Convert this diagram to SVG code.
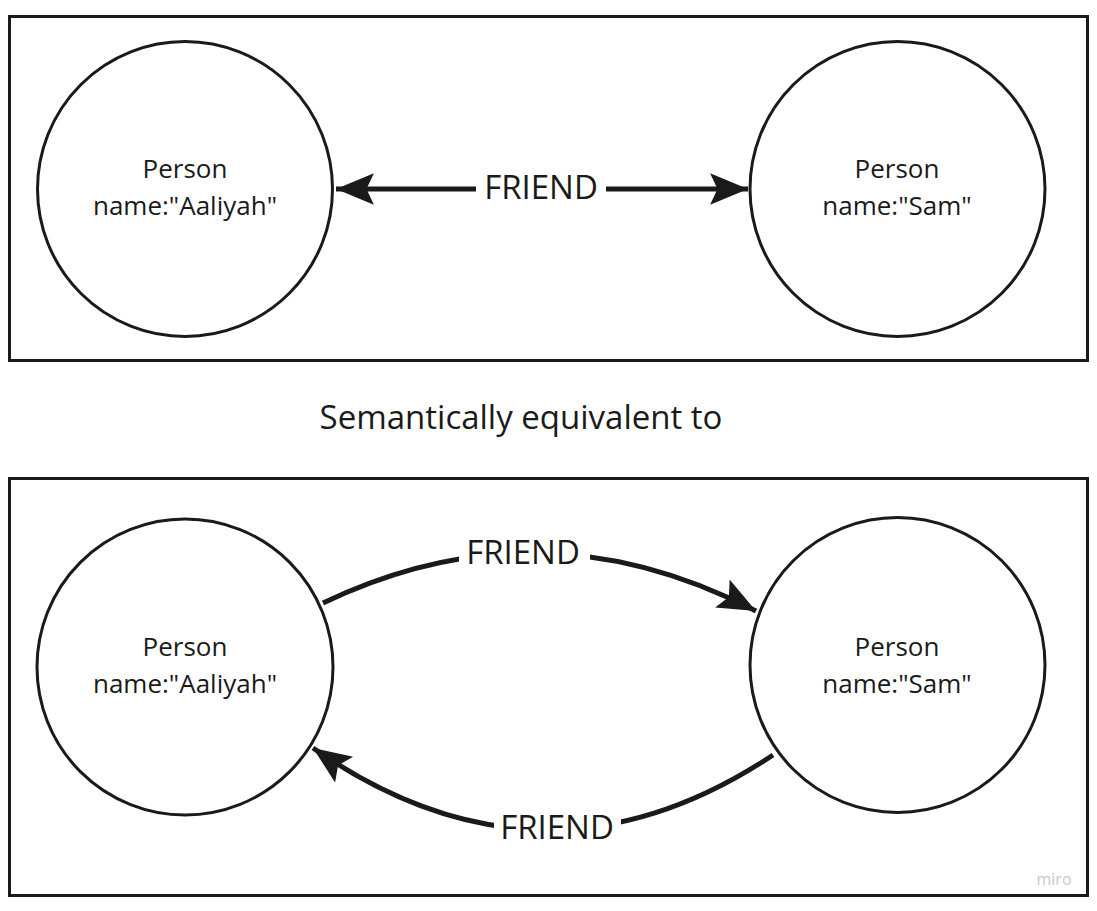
<svg xmlns="http://www.w3.org/2000/svg" width="1097" height="911" viewBox="0 0 1097 911">
<style>
.frame{fill:none;stroke:#1a1a1a;stroke-width:3}
.node{fill:#fff;stroke:#1a1a1a;stroke-width:3}
.lbl{font-family:"Open Sans",sans-serif;font-size:26px;fill:#1a1a1a;text-anchor:middle}
.edge{fill:none;stroke:#1a1a1a;stroke-width:5}
.elbl{font-family:"Open Sans",sans-serif;font-size:33px;fill:#1a1a1a;text-anchor:middle}
.gap{fill:#fff}
</style>
<defs>
<marker id="ah" markerUnits="userSpaceOnUse" markerWidth="40" markerHeight="40" viewBox="-36 -16 38 32" refX="0" refY="0" orient="auto-start-reverse">
<path d="M0,0 L-36,-15 L-29,0 L-36,15 Z" fill="#1a1a1a"/>
</marker>
</defs>
<rect class="frame" x="9.5" y="16.5" width="1078" height="344"/>
<rect class="frame" x="9.5" y="478.5" width="1078" height="417"/>
<text x="521" y="429" font-family="'Open Sans',sans-serif" font-size="33" fill="#1a1a1a" text-anchor="middle">Semantically equivalent to</text>
<g id="connectors">
<g id="edge-top">
<line class="edge" x1="336" y1="189" x2="748" y2="189" marker-start="url(#ah)" marker-end="url(#ah)"/>
<rect class="gap" x="476" y="170" width="130" height="40"/>
<text class="elbl" x="541" y="199">FRIEND</text>
</g>
<g id="edge-a-s">
<path class="edge" d="M323,603 Q540,499 756,611" marker-end="url(#ah)"/>
<rect class="gap" x="459" y="535" width="131" height="40"/>
<text class="elbl" x="523" y="564">FRIEND</text>
</g>
<g id="edge-s-a">
<path class="edge" d="M773,755 Q543,908 313,748" marker-end="url(#ah)"/>
<rect class="gap" x="494" y="806" width="127" height="40"/>
<text class="elbl" x="557" y="839">FRIEND</text>
</g>
</g>
<g id="aaliyah-top"><circle class="node" cx="185" cy="189" r="147.5"/><text class="lbl" x="185" y="178">Person</text><text class="lbl" x="185" y="215">name:"Aaliyah"</text></g>
<g id="sam-top"><circle class="node" cx="897.5" cy="189" r="147.5"/><text class="lbl" x="897" y="178">Person</text><text class="lbl" x="897" y="215">name:"Sam"</text></g>
<g id="aaliyah-bottom"><circle class="node" cx="185" cy="667" r="148"/><text class="lbl" x="185" y="656">Person</text><text class="lbl" x="185" y="693">name:"Aaliyah"</text></g>
<g id="sam-bottom"><circle class="node" cx="897.5" cy="665" r="147.5"/><text class="lbl" x="897" y="656">Person</text><text class="lbl" x="897" y="693">name:"Sam"</text></g>
<text x="1054" y="885" font-family="'Open Sans',sans-serif" font-size="16" fill="#c8c8c8" text-anchor="middle">miro</text>
</svg>
